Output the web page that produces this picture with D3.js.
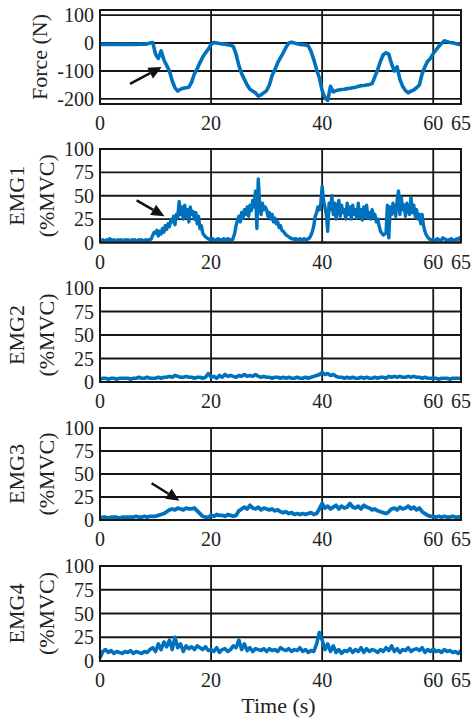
<!DOCTYPE html>
<html>
<head>
<meta charset="utf-8">
<script src="https://cdn.jsdelivr.net/npm/d3@7/dist/d3.min.js"></script>
<style>
  html, body { margin: 0; padding: 0; background: #fff; }
  svg { display: block; }
  text { font-family: "Times New Roman", "Liberation Serif", Tinos, Times, serif; fill: #222; }
</style>
</head>
<body>
<svg id="chart"></svg>
<script>
// Time axis
const timeTicks = [0, 20, 40, 60, 65];
const timeLabels = ["0", "20", "40", "60", "65"];

// Force (N), sampled every 0.5 s from 0 to 65 s
const forceStep = 0.5;
const force = [
  -4, -5, -5, -4, -5, -5, -4, -5, -5, -4, -5, -4, -5, -5, -4, -4, -4, -3, 0, 2,
  -40, -55, -28, -60, -80, -100, -135, -160, -172, -165, -162, -160, -158, -140, -110, -92, -70, -50, -35, -22,
  -5, 2, 0, -2, -3, -4, -6, -8, -12, -40, -80, -110, -130, -150, -165, -172, -178, -190, -185, -178,
  -170, -150, -115, -95, -70, -52, -35, -15, 0, 3, 0, -3, -5, -6, -7, -10, -30, -60, -95, -125,
  -170, -195, -205, -155, -175, -170, -168, -166, -165, -163, -162, -160, -158, -155, -153, -152, -150, -148, -145, -120,
  -95, -65, -42, -35, -40, -75, -100, -85, -130, -155, -170, -178, -172, -168, -160, -150, -110, -85, -65, -55,
  -38, -25, -12, -2, 8, 5, 2, 1, -2, -4, -6
];
const forceTicks = [100, 0, -100, -200];

// EMG1 (%MVC), sampled every 0.25 s
const emg1Step = 0.25;
const emg1 = [
  1, 2, 3, 2, 2, 3, 2, 4, 3, 2, 3, 2, 2, 3, 2, 3, 2, 2, 3, 2,
  3, 2, 2, 3, 2, 3, 2, 2, 3, 2, 3, 2, 2, 3, 2, 3, 3, 4, 8, 11,
  10, 13, 7, 12, 9, 15, 11, 18, 14, 20, 17, 24, 22, 28, 19, 30, 27, 44, 30, 38,
  25, 40, 28, 35, 22, 38, 30, 33, 25, 32, 20, 28, 15, 18, 10, 8, 6, 5, 4, 3,
  3, 4, 3, 2, 3, 4, 3, 3, 2, 4, 3, 3, 4, 3, 3, 2, 5, 10, 18, 24,
  28, 22, 32, 26, 35, 30, 38, 28, 40, 34, 45, 38, 55, 15, 68, 40, 30, 42, 35, 38,
  35, 28, 32, 25, 30, 22, 26, 20, 22, 16, 18, 13, 12, 10, 8, 7, 6, 5, 4, 4,
  3, 4, 3, 3, 4, 3, 3, 4, 3, 3, 4, 5, 8, 12, 18, 28, 32, 38, 35, 42,
  60, 45, 38, 30, 12, 42, 35, 50, 30, 42, 25, 38, 45, 28, 40, 32, 35, 25, 42, 30,
  38, 25, 40, 30, 35, 26, 42, 28, 35, 24, 38, 28, 40, 26, 32, 25, 35, 28, 30, 22,
  25, 18, 12, 10, 8, 9, 10, 40, 5, 38, 30, 42, 35, 28, 45, 55, 30, 48, 35, 40,
  28, 42, 35, 30, 48, 32, 40, 28, 35, 25, 30, 20, 30, 18, 12, 8, 6, 4, 3, 3,
  3, 2, 3, 4, 3, 2, 3, 5, 4, 3, 2, 3, 3, 4, 3, 2, 3, 4, 3, 5,
  4
];

// EMG2..EMG4 (%MVC), sampled every 0.5 s
const emgStep = 0.5;
const emg2 = [
  3, 4, 4, 3, 4, 4, 3, 4, 4, 4, 4, 3, 4, 4, 5, 4, 4, 5, 4, 4,
  4, 5, 4, 5, 5, 6, 5, 7, 6, 5, 5, 6, 5, 5, 4, 5, 5, 4, 5, 9,
  5, 6, 4, 7, 5, 8, 6, 7, 6, 5, 7, 6, 8, 6, 7, 6, 8, 6, 5, 6,
  5, 5, 4, 5, 5, 4, 5, 4, 5, 4, 4, 5, 4, 4, 5, 4, 5, 6, 7, 8,
  10, 8, 9, 7, 8, 6, 5, 5, 4, 5, 4, 5, 4, 4, 5, 4, 5, 4, 4, 5,
  4, 5, 5, 4, 6, 5, 6, 5, 6, 5, 5, 6, 5, 6, 5, 5, 4, 5, 4, 4,
  4, 4, 3, 4, 4, 4, 3, 4, 4, 4, 4
];
const emg3 = [
  2, 3, 3, 2, 3, 3, 3, 2, 3, 3, 3, 3, 3, 4, 3, 3, 4, 3, 4, 4,
  4, 5, 6, 7, 9, 11, 12, 11, 13, 12, 11, 13, 12, 12, 13, 10, 7, 4, 3, 3,
  5, 4, 6, 5, 5, 4, 6, 5, 4, 5, 10, 12, 14, 12, 16, 13, 12, 14, 11, 13,
  12, 11, 12, 10, 11, 9, 8, 9, 7, 8, 6, 7, 6, 7, 6, 7, 8, 6, 7, 12,
  18, 13, 15, 12, 14, 16, 12, 15, 13, 14, 18, 14, 13, 15, 12, 16, 14, 13, 11, 12,
  10, 9, 8, 7, 9, 12, 13, 11, 14, 12, 13, 15, 12, 14, 11, 13, 9, 7, 5, 4,
  4, 3, 4, 3, 4, 3, 3, 4, 3, 3, 4
];
const emg4 = [
  3, 10, 12, 9, 11, 8, 10, 9, 8, 10, 9, 11, 8, 10, 9, 8, 10, 9, 12, 14,
  10, 18, 12, 20, 15, 22, 12, 25, 14, 18, 10, 16, 13, 15, 12, 16, 14, 12, 15, 11,
  12, 10, 14, 9, 12, 13, 10, 12, 16, 14, 22, 12, 18, 11, 14, 10, 13, 12, 11, 13,
  10, 13, 11, 12, 10, 14, 12, 11, 13, 10, 12, 11, 14, 10, 12, 9, 11, 10, 18, 30,
  22, 12, 18, 10, 16, 9, 12, 8, 11, 10, 13, 9, 12, 10, 14, 9, 13, 10, 12, 11,
  9, 12, 10, 14, 11, 16, 10, 13, 9, 12, 11, 14, 10, 12, 13, 11, 14, 9, 12, 10,
  13, 10, 11, 9, 12, 10, 11, 9, 10, 8, 11
];
const emgTicks = [100, 75, 50, 25, 0];

// Arrow annotations, in data units [t0, v0, t1, v1]
const forceArrow = [5.4, -146, 11.1, -86];
const emg1Arrow = [6.6, 45, 11.6, 28];
const emg3Arrow = [9.3, 40, 14.3, 21];

const W = 475, H = 719;
const left = 100, right = 461;
const blue = "#0072BD";
const ink = "#161616";

const panels = [
  { values: force, step: forceStep, domain: [-218, 118], ticks: forceTicks, top: 10, h: 94,
    label: ["Force (N)"], arrow: forceArrow, lw: 3.6 },
  { values: emg1, step: emg1Step, domain: [0, 100], ticks: emgTicks, top: 149, h: 93.5,
    label: ["EMG1", "(%MVC)"], arrow: emg1Arrow, lw: 3.4 },
  { values: emg2, step: emgStep, domain: [0, 100], ticks: emgTicks, top: 288, h: 94,
    label: ["EMG2", "(%MVC)"], arrow: null, lw: 3.6 },
  { values: emg3, step: emgStep, domain: [0, 100], ticks: emgTicks, top: 428, h: 92,
    label: ["EMG3", "(%MVC)"], arrow: emg3Arrow, lw: 3.8 },
  { values: emg4, step: emgStep, domain: [0, 100], ticks: emgTicks, top: 566, h: 95,
    label: ["EMG4", "(%MVC)"], arrow: null, lw: 3.6 }
];

const svg = d3.select("#chart").attr("width", W).attr("height", H);

const x = d3.scaleLinear().domain([0, 65]).range([left, right]);

panels.forEach((p) => {
  const y = d3.scaleLinear().domain(p.domain).range([p.top + p.h, p.top]);
  const g = svg.append("g");

  // grid
  g.selectAll("line.vg")
    .data(timeTicks.slice(1, 4))
    .join("line")
    .attr("x1", (d) => x(d)).attr("x2", (d) => x(d))
    .attr("y1", p.top).attr("y2", p.top + p.h)
    .attr("stroke", ink).attr("stroke-width", 1.8);
  g.selectAll("line.hg")
    .data(p.ticks)
    .join("line")
    .attr("x1", left).attr("x2", right)
    .attr("y1", (d) => y(d)).attr("y2", (d) => y(d))
    .attr("stroke", ink).attr("stroke-width", 1.8);

  // data line
  const line = d3.line()
    .x((d, i) => x(i * p.step))
    .y((d) => y(d));
  g.append("path")
    .datum(p.values)
    .attr("d", line)
    .attr("fill", "none")
    .attr("stroke", blue)
    .attr("stroke-width", p.lw)
    .attr("stroke-linejoin", "round");

  // frame
  g.append("rect")
    .attr("x", left).attr("y", p.top)
    .attr("width", right - left).attr("height", p.h)
    .attr("fill", "none").attr("stroke", ink).attr("stroke-width", 2);

  // y tick labels
  g.selectAll("text.yt")
    .data(p.ticks)
    .join("text")
    .attr("x", 94)
    .attr("y", (d) => y(d))
    .attr("dy", "0.35em")
    .attr("text-anchor", "end")
    .style("font-size", "20px")
    .text((d) => (d < 0 ? "-" + Math.abs(d) : d));

  // x tick labels
  g.selectAll("text.xt")
    .data(timeTicks)
    .join("text")
    .attr("x", (d) => x(d))
    .attr("y", p.top + p.h + 26)
    .attr("text-anchor", "middle")
    .style("font-size", "20px")
    .text((d, i) => timeLabels[i]);

  // y label
  const cy = p.top + p.h / 2;
  if (p.label.length === 1) {
    g.append("text")
      .attr("transform", `translate(47,${cy}) rotate(-90)`)
      .attr("text-anchor", "middle")
      .style("font-size", "22px")
      .text(p.label[0]);
  } else {
    g.append("text")
      .attr("transform", `translate(24,${cy}) rotate(-90)`)
      .attr("text-anchor", "middle")
      .style("font-size", "22px")
      .text(p.label[0]);
    g.append("text")
      .attr("transform", `translate(54,${cy}) rotate(-90)`)
      .attr("text-anchor", "middle")
      .style("font-size", "22px")
      .text(p.label[1]);
  }

  // arrow
  if (p.arrow) {
    const [t0, v0, t1, v1] = p.arrow;
    const x0 = x(t0), y0 = y(v0), x1 = x(t1), y1 = y(v1);
    const ang = Math.atan2(y1 - y0, x1 - x0);
    const hl = 13, hw = 6;
    const bx = x1 - hl * Math.cos(ang), by = y1 - hl * Math.sin(ang);
    g.append("line")
      .attr("x1", x0).attr("y1", y0).attr("x2", bx).attr("y2", by)
      .attr("stroke", "#111").attr("stroke-width", 2.5);
    const px = -Math.sin(ang) * hw, py = Math.cos(ang) * hw;
    g.append("path")
      .attr("d", `M${x1},${y1}L${bx + px},${by + py}L${bx - px},${by - py}Z`)
      .attr("fill", "#111");
  }
});

svg.append("text")
  .attr("x", (left + right) / 2 - 2)
  .attr("y", 713)
  .attr("text-anchor", "middle")
  .style("font-size", "22px")
  .text("Time (s)");
</script>
</body>
</html>
